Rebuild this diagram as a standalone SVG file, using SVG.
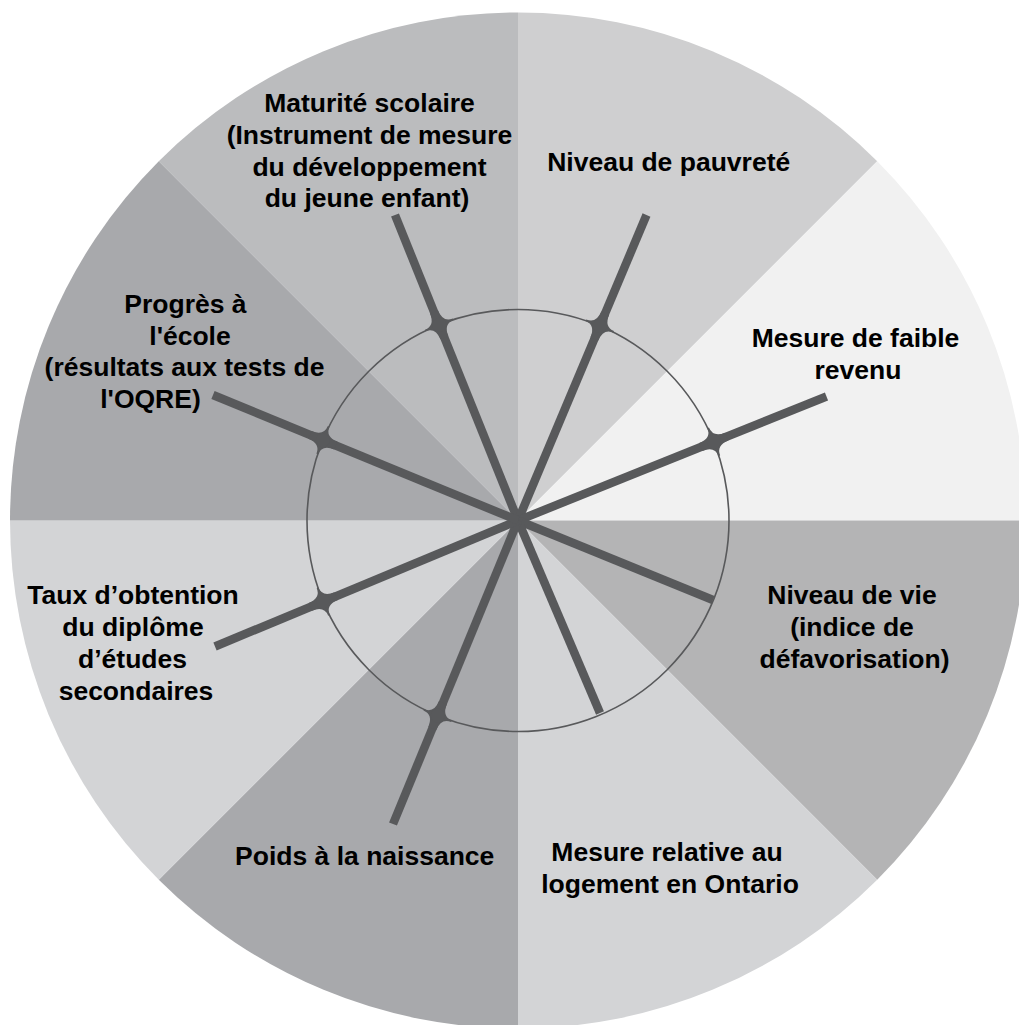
<svg xmlns="http://www.w3.org/2000/svg" xmlns:xlink="http://www.w3.org/1999/xlink" width="1019" height="1025" viewBox="0 0 1019 1025">
<style>
.lbl{font-family:"Liberation Sans",Arial,Helvetica,sans-serif;font-weight:bold;font-size:26.5px;fill:#000;text-anchor:middle}
.spoke{stroke:#58595b;stroke-width:8.5;stroke-linecap:butt;fill:none}
.ring{stroke:#58595b;stroke-width:1.6;fill:none}
.dot{fill:#58595b}
</style>
<defs>
<g id="blob">
<path d="M14,4.25 Q0.8,4.25 0.8,15 L-0.8,15 Q-0.8,4.25 -14,4.25 L-14,-4.25 Q-0.8,-4.25 -0.8,-15 L0.8,-15 Q0.8,-4.25 14,-4.25 Z"/>
<circle r="7"/>
</g>
</defs>
<rect width="1019" height="1025" fill="#ffffff"/>
<g id="node-maturite">
<path d="M518,520.5 L158.79,161.29 A508,508 0 0 1 518,12.5 Z" fill="#bbbcbe"/>
<text class="lbl" x="369.5" y="111.7">Maturité scolaire</text>
<text class="lbl" x="369.5" y="143.7">(Instrument de mesure</text>
<text class="lbl" x="369.5" y="175.5">du développement</text>
<text class="lbl" x="367" y="207">du jeune enfant)</text>
</g>
<g id="node-pauvrete">
<path d="M518,520.5 L518,12.5 A508,508 0 0 1 877.21,161.29 Z" fill="#cfcfd0"/>
<text class="lbl" x="668.7" y="170.7">Niveau de pauvreté</text>
</g>
<g id="node-faible-revenu">
<path d="M518,520.5 L877.21,161.29 A508,508 0 0 1 1026,520.5 Z" fill="#f1f1f1"/>
<text class="lbl" x="855.5" y="346.7">Mesure de faible</text>
<text class="lbl" x="858" y="379">revenu</text>
</g>
<g id="node-niveau-vie">
<path d="M518,520.5 L1026,520.5 A508,508 0 0 1 877.21,879.71 Z" fill="#b4b4b5"/>
<text class="lbl" x="852" y="603.7">Niveau de vie</text>
<text class="lbl" x="852" y="636">(indice de</text>
<text class="lbl" x="854.5" y="667.7">défavorisation)</text>
</g>
<g id="node-logement">
<path d="M518,520.5 L877.21,879.71 A508,508 0 0 1 518,1028.5 Z" fill="#d3d4d6"/>
<text class="lbl" x="667" y="861">Mesure relative au</text>
<text class="lbl" x="670" y="892.7">logement en Ontario</text>
</g>
<g id="node-poids">
<path d="M518,520.5 L518,1028.5 A508,508 0 0 1 158.79,879.71 Z" fill="#a8a9ac"/>
<text class="lbl" x="364.7" y="865">Poids à la naissance</text>
</g>
<g id="node-taux">
<path d="M518,520.5 L158.79,879.71 A508,508 0 0 1 10,520.5 Z" fill="#d3d4d6"/>
<text class="lbl" x="133" y="604.3">Taux d’obtention</text>
<text class="lbl" x="133" y="636">du diplôme</text>
<text class="lbl" x="132.5" y="668.3">d’études</text>
<text class="lbl" x="136" y="700">secondaires</text>
</g>
<g id="node-progres">
<path d="M518,520.5 L10,520.5 A508,508 0 0 1 158.79,161.29 Z" fill="#a8a9ac"/>
<text class="lbl" x="185.5" y="312.7">Progrès à</text>
<text class="lbl" x="190" y="345">l'école</text>
<text class="lbl" x="184.5" y="376">(résultats aux tests de</text>
<text class="lbl" x="150.5" y="407.7">l'OQRE)</text>
</g>
<circle class="ring" cx="518" cy="520.5" r="211"/>
<g id="connectors">
<line class="spoke" x1="518" y1="520.5" x2="395" y2="215"/>
<line class="spoke" x1="518" y1="520.5" x2="646.5" y2="215"/>
<line class="spoke" x1="518" y1="520.5" x2="826.5" y2="396.5"/>
<line class="spoke" x1="518" y1="520.5" x2="713" y2="600"/>
<line class="spoke" x1="518" y1="520.5" x2="600" y2="713"/>
<line class="spoke" x1="518" y1="520.5" x2="393" y2="824"/>
<line class="spoke" x1="518" y1="520.5" x2="215" y2="646.5"/>
<line class="spoke" x1="518" y1="520.5" x2="213" y2="395"/>
<use xlink:href="#blob" class="dot" transform="translate(439.2,324.8) rotate(-111.9)"/>
<use xlink:href="#blob" class="dot" transform="translate(599.8,326) rotate(-67.2)"/>
<use xlink:href="#blob" class="dot" transform="translate(713.8,441.8) rotate(-21.9)"/>
<use xlink:href="#blob" class="dot" transform="translate(322.9,440.2) rotate(-157.6)"/>
<use xlink:href="#blob" class="dot" transform="translate(323.2,601.5) rotate(157.4)"/>
<use xlink:href="#blob" class="dot" transform="translate(437.6,715.6) rotate(112.4)"/>
</g>
</svg>
